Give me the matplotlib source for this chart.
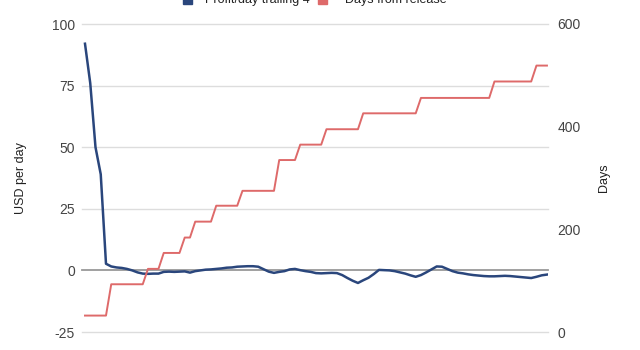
import matplotlib.pyplot as plt
from matplotlib.patches import Rectangle

plt.rcParams['font.family'] = ['Liberation Sans', 'DejaVu Sans']
plt.rcParams['axes.unicode_minus'] = False

# trailing-4 profit per day (USD), one value per sample
profit = [92, 76, 50, 39, 2.7, 1.6, 1.2, 1.0, 0.6, 0.0,
          -0.8, -1.3, -1.4, -1.3, -1.3, -0.6, -0.5, -0.6, -0.5, -0.4,
          -0.9, -0.3, 0.0, 0.3, 0.4, 0.6, 0.8, 1.1, 1.2, 1.5,
          1.6, 1.7, 1.7, 1.5, 0.5, -0.5, -1.0, -0.6, -0.3, 0.4,
          0.6, 0.1, -0.3, -0.6, -1.1, -1.2, -1.1, -1.0, -1.1, -1.9,
          -3.1, -4.2, -5.1, -4.0, -3.0, -1.5, 0.2, 0.1, 0.0, -0.3,
          -0.8, -1.3, -2.0, -2.6, -1.9, -0.8, 0.4, 1.6, 1.5, 0.6,
          -0.3, -0.9, -1.2, -1.6, -1.9, -2.1, -2.3, -2.4, -2.4, -2.3,
          -2.2, -2.3, -2.5, -2.7, -2.9, -3.1, -2.6, -2.0, -1.7]

# days since release at each sample
days = [32, 32, 32, 32, 32,
        93, 93, 93, 93, 93, 93, 93,
        123, 123, 123,
        154, 154, 154, 154,
        184, 184,
        215, 215, 215, 215,
        246, 246, 246, 246, 246,
        275, 275, 275, 275, 275, 275, 275,
        335, 335, 335, 335,
        365, 365, 365, 365, 365,
        395, 395, 395, 395, 395, 395, 395,
        426, 426, 426, 426, 426, 426, 426, 426, 426, 426, 426,
        456, 456, 456, 456, 456, 456, 456, 456, 456, 456, 456, 456, 456, 456,
        488, 488, 488, 488, 488, 488, 488, 488,
        519, 519, 519]

usd_ticks = [-25, 0, 25, 50, 75, 100]
day_ticks = [0, 200, 400, 600]

blue = '#2a467c'
red = '#de6a6a'
tick_color = '#444444'

x = list(range(len(profit)))

fig = plt.figure(figsize=(6.4, 3.5), dpi=100)
ax = fig.add_axes([82 / 640, 1 - 332 / 350, (548 - 82) / 640, (332 - 24) / 350])
ax2 = ax.twinx()

for t in usd_ticks:
    ax.axhline(t, color='#999999' if t == 0 else '#dddddd',
               lw=1.3 if t == 0 else 1.0, clip_on=False, zorder=1)

ax.plot(x, profit, color=blue, lw=1.8, zorder=3)
ax2.plot(x, days, color=red, lw=1.4)

ax.set_xlim(-0.57, 88.2)
ax.set_ylim(-25, 100)
ax2.set_ylim(0, 600)

ax.set_yticks(usd_ticks)
ax2.set_yticks(day_ticks)
ax.set_xticks([])
for a in (ax, ax2):
    for s in a.spines.values():
        s.set_visible(False)
    a.tick_params(length=0, labelsize=10, colors=tick_color)
ax.tick_params(axis='y', pad=5)
ax2.tick_params(axis='y', pad=7)

ax.set_ylabel('USD per day', fontsize=9, color='#222222', labelpad=18)
ax2.set_ylabel('Days', fontsize=9, color='#222222', rotation=90, labelpad=12)

# legend row across the top edge
ty = 1 - 3 / 350
fig.add_artist(Rectangle((183 / 640, 1 - 3.5 / 350), 9 / 640, 9 / 350,
                         transform=fig.transFigure, color=blue))
fig.text(205 / 640, ty, 'Profit/day trailing 4', fontsize=9, color='#222222', va='baseline')
fig.add_artist(Rectangle((318 / 640, 1 - 3.5 / 350), 9 / 640, 9 / 350,
                         transform=fig.transFigure, color=red))
fig.text(345 / 640, ty, 'Days from release', fontsize=9, color='#222222', va='baseline')

fig.savefig('out.png', dpi=100)
